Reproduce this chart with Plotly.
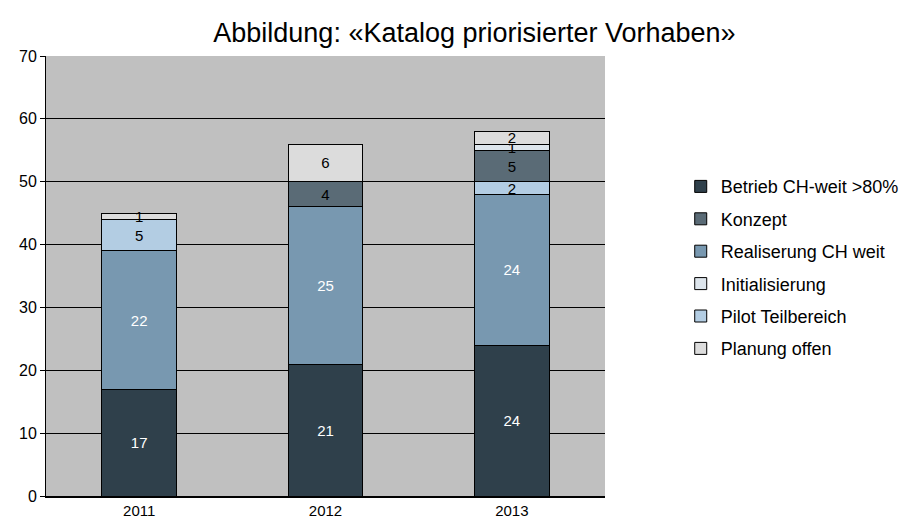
import plotly.graph_objects as go

years = ["2011", "2012", "2013"]
betrieb = [17, 21, 24]
realisierung = [22, 25, 24]
pilot = [5, 0, 2]
konzept = [0, 4, 5]
initialisierung = [0, 0, 1]
planung = [1, 6, 2]

# stacking bottom-up, with legend rank
series = [
    ("Betrieb CH-weit >80%", betrieb, "#2F404B", "white", 1),
    ("Realiserung CH weit", realisierung, "#7898B0", "white", 3),
    ("Pilot Teilbereich", pilot, "#B3CDE3", "black", 5),
    ("Konzept", konzept, "#5A6B76", "black", 2),
    ("Initialisierung", initialisierung, "#DDE5EC", "black", 4),
    ("Planung offen", planung, "#DCDCDC", "black", 6),
]

fig = go.Figure()
for name, vals, col, tcol, rank in series:
    fig.add_trace(go.Bar(
        x=years, y=vals, name=name, legendgroup=name,
        marker=dict(color=col, line=dict(color="black", width=1)),
        text=[str(v) if v else "" for v in vals],
        textposition="inside", insidetextanchor="middle",
        constraintext="none", textangle=0,
        textfont=dict(color=tcol, size=15, family="Liberation Sans, Arial"),
        legendrank=rank,
        cliponaxis=False,
    ))

fig.update_layout(
    barmode="stack",
    bargap=0.6,
    width=916, height=525,
    margin=dict(l=46, r=309, t=56, b=29),
    paper_bgcolor="white",
    plot_bgcolor="#C0C0C0",
    font=dict(family="Liberation Sans, Arial", color="black", size=15),
    uniformtext=dict(minsize=15, mode="show"),
    title=dict(text="Abbildung: «Katalog priorisierter Vorhaben»",
               x=(476 - 46) / 561, xref="paper", xanchor="center",
               y=1 - 33 / 525, yanchor="middle",
               font=dict(size=27, family="Liberation Sans, Arial", color="black")),
    legend=dict(x=(683 - 46) / 561, xanchor="left", y=0.745, yanchor="top",
                font=dict(size=18, family="Liberation Sans, Arial"),
                traceorder="grouped", itemwidth=30, tracegroupgap=6,
                bgcolor="rgba(0,0,0,0)"),
    showlegend=True,
)
fig.update_yaxes(range=[0, 70], dtick=10, showgrid=True, gridcolor="black",
                 gridwidth=1, showline=True, linecolor="black", linewidth=1,
                 ticks="outside", ticklen=5, tickcolor="black", automargin=False,
                 tickfont=dict(size=16, family="Liberation Sans, Arial"), zeroline=False)
fig.update_xaxes(showline=True, linecolor="black", linewidth=2, automargin=False,
                 ticks="", tickfont=dict(size=15, family="Liberation Sans, Arial"))

fig.write_html("out.html")
